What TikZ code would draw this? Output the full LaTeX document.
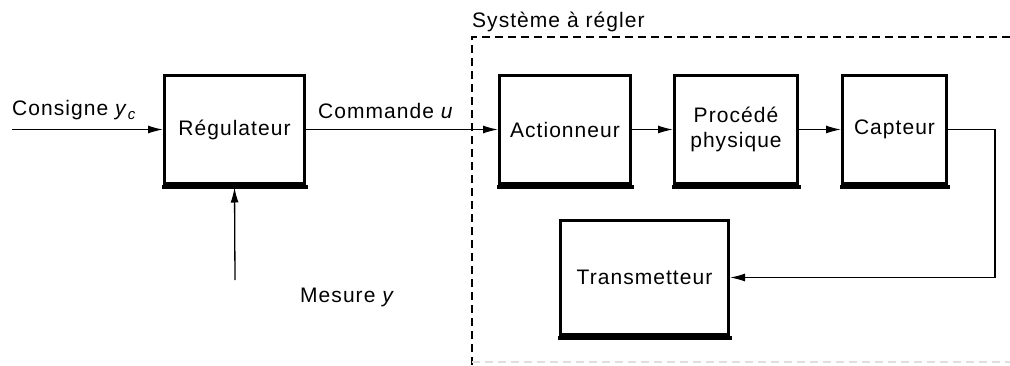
\documentclass[tikz,border=0pt]{standalone}
\usepackage{fontspec}
\setmainfont{Liberation Sans}[LetterSpace=5]
\usetikzlibrary{arrows.meta}
\begin{document}
\begin{tikzpicture}[x=1pt,y=-1pt,
  blk/.style={draw, line width=3pt, inner sep=0pt, align=center,
    font=\fontsize{21}{25}\selectfont},
  lbl/.style={inner sep=0pt, font=\fontsize{21}{25}\selectfont},
  arr/.style={line width=1.3pt, -{Latex[length=15pt,width=8pt]}},
  sysbox/.style={line width=1.2pt, dash pattern=on 8pt off 5pt}]
\useasboundingbox (0,0) rectangle (1010,365);

% system boundary
\coordinate (sa) at (472,365);
\coordinate (sb) at (472,37);
\coordinate (sc) at (1010,37);
\coordinate (sd) at (1010,362);
\draw[sysbox] (sa) -- (sb) -- (sc);
\draw[sysbox, gray!25] (sa |- sd) -- (sd);
\node[lbl, anchor=base west] (sys) at (472,27) {Système à régler};

% blocks
\node[blk, minimum width=140pt, minimum height=108pt] (r) at (234.5,129.5) {Régulateur};
\node[blk, minimum width=131pt, minimum height=108pt] (a) at (565,129.5) {Actionneur};
\node[blk, minimum width=123pt, minimum height=108pt] (p) at (736,129.5) {Procédé\\physique};
\node[blk, minimum width=104pt, minimum height=108pt] (c) at (894.5,129.5) {Capteur};
\node[blk, minimum width=168pt, minimum height=114pt] (t) at (644.5,277.5) {Transmetteur};

% thick bottom edges (shadow)
\foreach \n in {r,a,p,c,t}{
  \fill ([xshift=-1.5pt]\n.south west) rectangle ([xshift=1.5pt,yshift=-4pt]\n.south east);
}

% labels
\node[lbl, anchor=base west] (lc) at (12,115) {Consigne \textit{y}\raisebox{-0.4ex}{\fontsize{15}{15}\selectfont\textit{c}}};
\node[lbl, anchor=base west] (lu) at (318,118) {Commande \textit{u}};
\node[lbl, anchor=base west] (lm) at (300,302) {Mesure \textit{y}};

% connectors
\coordinate (in) at (12,129.5);
\coordinate (ms) at (235,280);
\coordinate (k) at (995,277.5);
\draw[arr] (in) -- (r.west);
\draw[arr, shorten >=2.5pt] (ms) -- (r.south);
\draw[arr] (r.east) -- (a.west);
\draw[arr] (a.east) -- (p.west);
\draw[arr] (p.east) -- (c.west);
\draw[arr] (c.east) -| (k) -- (t.east);
\end{tikzpicture}
\end{document}
